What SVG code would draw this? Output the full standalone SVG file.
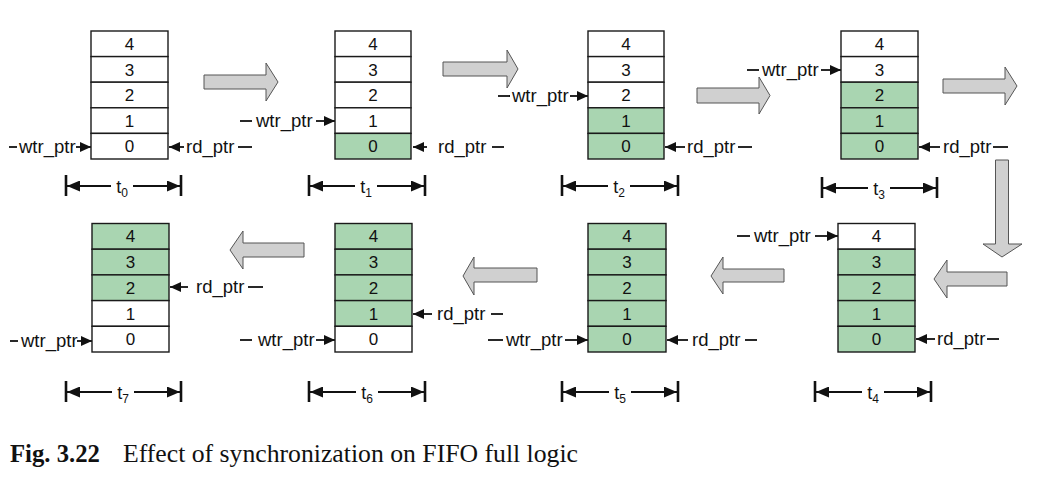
<svg xmlns="http://www.w3.org/2000/svg" width="1040" height="490" viewBox="0 0 1040 490">
<defs>
<style>
.cell{fill:#ffffff;stroke:#1a1a1a;stroke-width:1.4}
.g{fill:#a9d5b1}
.num{font-family:"Liberation Sans",Arial,sans-serif;font-size:17px;fill:#111;text-anchor:middle}
.lbl{font-family:"Liberation Sans",Arial,sans-serif;font-size:18.5px;fill:#111}
.ptr{stroke:#111;stroke-width:1.8;fill:none}
.ptrh{stroke:#111;stroke-width:1.8;fill:none;marker-end:url(#ah)}
.tl{stroke:#111;stroke-width:2;fill:none;marker-end:url(#th)}
.bar{stroke:#111;stroke-width:2.6}
.big{fill:#d0d0d0;stroke:#555;stroke-width:1}
.tt{font-family:"Liberation Sans",Arial,sans-serif;font-size:18px;fill:#111;text-anchor:middle}
.sub{font-size:12px}
.cap{font-family:"Liberation Serif","Times New Roman",serif;font-size:25.5px;fill:#111}
</style>
<marker id="ah" markerUnits="userSpaceOnUse" markerWidth="11" markerHeight="10" refX="11" refY="5" orient="auto"><path d="M0,0 L11,5 L0,10 z" fill="#111"/></marker>
<marker id="th" markerUnits="userSpaceOnUse" markerWidth="13" markerHeight="11" refX="13" refY="5.5" orient="auto"><path d="M0,0 L13,5.5 L0,11 z" fill="#111"/></marker>
</defs>

<g id="connectors">
<path class="big" d="M204,75 L266,75 L266,63 L278,82 L266,101 L266,89 L204,89 Z"/>
<path class="big" d="M443,62 L507,62 L507,50 L518,69 L507,88 L507,76 L443,76 Z"/>
<path class="big" d="M697,88 L759,88 L759,77 L770,95.5 L759,114 L759,103 L697,103 Z"/>
<path class="big" d="M943,79 L1005,79 L1005,67 L1017,86 L1005,105 L1005,93 L943,93 Z"/>
<path class="big" d="M995.5,160 L1008.5,160 L1008.5,244 L1022,244 L1002,257 L983,244 L995.5,244 Z"/>
<path class="big" d="M1007,272 L947,272 L947,260 L934,279 L947,298 L947,286 L1007,286 Z"/>
<path class="big" d="M784,269 L723,269 L723,257 L711,276 L723,294 L723,282 L784,282 Z"/>
<path class="big" d="M537,268 L474,268 L474,257 L463,276 L474,295 L474,282 L537,282 Z"/>
<path class="big" d="M304,243 L243,243 L243,231 L230,250 L243,269 L243,257 L304,257 Z"/>

<line class="ptr" x1="9" y1="147" x2="17" y2="147"/>
<line class="ptrh" x1="76" y1="147" x2="91" y2="147"/>
<line class="ptrh" x1="184" y1="147" x2="169" y2="147"/>
<line class="ptr" x1="238" y1="147" x2="252" y2="147"/>
<line class="ptr" x1="240" y1="121" x2="252" y2="121"/>
<line class="ptrh" x1="316" y1="121" x2="335" y2="121"/>
<line class="ptrh" x1="427" y1="147" x2="413" y2="147"/>
<line class="ptr" x1="492" y1="147" x2="504" y2="147"/>
<line class="ptr" x1="498" y1="96" x2="510" y2="96"/>
<line class="ptrh" x1="570" y1="96" x2="588" y2="96"/>
<line class="ptrh" x1="685" y1="147" x2="665" y2="147"/>
<line class="ptr" x1="738" y1="147" x2="752" y2="147"/>
<line class="ptr" x1="747" y1="70" x2="759" y2="70"/>
<line class="ptrh" x1="821" y1="70" x2="841" y2="70"/>
<line class="ptrh" x1="940" y1="147" x2="919" y2="147"/>
<line class="ptr" x1="993" y1="147" x2="1008" y2="147"/>
<line class="ptr" x1="737" y1="236" x2="750" y2="236"/>
<line class="ptrh" x1="815" y1="236" x2="838" y2="236"/>
<line class="ptrh" x1="935" y1="339" x2="916" y2="339"/>
<line class="ptr" x1="987" y1="339" x2="999" y2="339"/>
<line class="ptr" x1="488" y1="340" x2="503" y2="340"/>
<line class="ptrh" x1="565" y1="340" x2="588" y2="340"/>
<line class="ptrh" x1="688" y1="340" x2="667" y2="340"/>
<line class="ptr" x1="745" y1="340" x2="757" y2="340"/>
<line class="ptr" x1="240" y1="340" x2="252" y2="340"/>
<line class="ptrh" x1="316" y1="340" x2="335" y2="340"/>
<line class="ptrh" x1="432" y1="314" x2="413" y2="314"/>
<line class="ptr" x1="491" y1="314" x2="503" y2="314"/>
<line class="ptr" x1="10" y1="341" x2="18" y2="341"/>
<line class="ptrh" x1="77" y1="341" x2="92" y2="341"/>
<line class="ptrh" x1="188" y1="287" x2="170" y2="287"/>
<line class="ptr" x1="248" y1="287" x2="263" y2="287"/>
</g>

<g id="t0">
<rect class="cell" x="91" y="31" width="77" height="25.6"/>
<rect class="cell" x="91" y="56.6" width="77" height="25.6"/>
<rect class="cell" x="91" y="82.2" width="77" height="25.6"/>
<rect class="cell" x="91" y="107.8" width="77" height="25.6"/>
<rect class="cell" x="91" y="133.4" width="77" height="25.6"/>
<text class="num" x="129.5" y="49.9">4</text><text class="num" x="129.5" y="75.5">3</text><text class="num" x="129.5" y="101.1">2</text><text class="num" x="129.5" y="126.7">1</text><text class="num" x="129.5" y="152.3">0</text>
<text class="lbl" x="19" y="152.5">wtr_ptr</text>
<text class="lbl" x="186" y="152.5">rd_ptr</text>
</g>

<g id="t1">
<rect class="cell" x="335" y="31" width="76" height="25.6"/>
<rect class="cell" x="335" y="56.6" width="76" height="25.6"/>
<rect class="cell" x="335" y="82.2" width="76" height="25.6"/>
<rect class="cell" x="335" y="107.8" width="76" height="25.6"/>
<rect class="cell g" x="335" y="133.4" width="76" height="25.6"/>
<text class="num" x="373" y="49.9">4</text><text class="num" x="373" y="75.5">3</text><text class="num" x="373" y="101.1">2</text><text class="num" x="373" y="126.7">1</text><text class="num" x="373" y="152.3">0</text>
<text class="lbl" x="256" y="126.5">wtr_ptr</text>
<text class="lbl" x="438" y="152.5">rd_ptr</text>
</g>

<g id="t2">
<rect class="cell" x="588" y="31" width="76" height="25.6"/>
<rect class="cell" x="588" y="56.6" width="76" height="25.6"/>
<rect class="cell" x="588" y="82.2" width="76" height="25.6"/>
<rect class="cell g" x="588" y="107.8" width="76" height="25.6"/>
<rect class="cell g" x="588" y="133.4" width="76" height="25.6"/>
<text class="num" x="626" y="49.9">4</text><text class="num" x="626" y="75.5">3</text><text class="num" x="626" y="101.1">2</text><text class="num" x="626" y="126.7">1</text><text class="num" x="626" y="152.3">0</text>
<text class="lbl" x="512" y="101.5">wtr_ptr</text>
<text class="lbl" x="687" y="152.5">rd_ptr</text>
</g>

<g id="t3">
<rect class="cell" x="841" y="31" width="77" height="25.6"/>
<rect class="cell" x="841" y="56.6" width="77" height="25.6"/>
<rect class="cell g" x="841" y="82.2" width="77" height="25.6"/>
<rect class="cell g" x="841" y="107.8" width="77" height="25.6"/>
<rect class="cell g" x="841" y="133.4" width="77" height="25.6"/>
<text class="num" x="879.5" y="49.9">4</text><text class="num" x="879.5" y="75.5">3</text><text class="num" x="879.5" y="101.1">2</text><text class="num" x="879.5" y="126.7">1</text><text class="num" x="879.5" y="152.3">0</text>
<text class="lbl" x="762" y="75.5">wtr_ptr</text>
<text class="lbl" x="943" y="152.5">rd_ptr</text>
</g>

<g id="t4">
<rect class="cell" x="838" y="223.5" width="77" height="25.7"/>
<rect class="cell g" x="838" y="249.2" width="77" height="25.7"/>
<rect class="cell g" x="838" y="274.9" width="77" height="25.7"/>
<rect class="cell g" x="838" y="300.6" width="77" height="25.7"/>
<rect class="cell g" x="838" y="326.3" width="77" height="25.7"/>
<text class="num" x="876.5" y="242.4">4</text><text class="num" x="876.5" y="268.1">3</text><text class="num" x="876.5" y="293.8">2</text><text class="num" x="876.5" y="319.5">1</text><text class="num" x="876.5" y="345.2">0</text>
<text class="lbl" x="754" y="241.5">wtr_ptr</text>
<text class="lbl" x="937" y="344.5">rd_ptr</text>
</g>

<g id="t5">
<rect class="cell g" x="588" y="223.5" width="78" height="25.7"/>
<rect class="cell g" x="588" y="249.2" width="78" height="25.7"/>
<rect class="cell g" x="588" y="274.9" width="78" height="25.7"/>
<rect class="cell g" x="588" y="300.6" width="78" height="25.7"/>
<rect class="cell g" x="588" y="326.3" width="78" height="25.7"/>
<text class="num" x="627" y="242.4">4</text><text class="num" x="627" y="268.1">3</text><text class="num" x="627" y="293.8">2</text><text class="num" x="627" y="319.5">1</text><text class="num" x="627" y="345.2">0</text>
<text class="lbl" x="506" y="345.5">wtr_ptr</text>
<text class="lbl" x="692" y="345.5">rd_ptr</text>
</g>

<g id="t6">
<rect class="cell g" x="335" y="223.5" width="77" height="25.7"/>
<rect class="cell g" x="335" y="249.2" width="77" height="25.7"/>
<rect class="cell g" x="335" y="274.9" width="77" height="25.7"/>
<rect class="cell g" x="335" y="300.6" width="77" height="25.7"/>
<rect class="cell" x="335" y="326.3" width="77" height="25.7"/>
<text class="num" x="373.5" y="242.4">4</text><text class="num" x="373.5" y="268.1">3</text><text class="num" x="373.5" y="293.8">2</text><text class="num" x="373.5" y="319.5">1</text><text class="num" x="373.5" y="345.2">0</text>
<text class="lbl" x="258" y="345.5">wtr_ptr</text>
<text class="lbl" x="437" y="319.5">rd_ptr</text>
</g>

<g id="t7">
<rect class="cell g" x="92" y="223.5" width="77" height="25.7"/>
<rect class="cell g" x="92" y="249.2" width="77" height="25.7"/>
<rect class="cell g" x="92" y="274.9" width="77" height="25.7"/>
<rect class="cell" x="92" y="300.6" width="77" height="25.7"/>
<rect class="cell" x="92" y="326.3" width="77" height="25.7"/>
<text class="num" x="130.5" y="242.4">4</text><text class="num" x="130.5" y="268.1">3</text><text class="num" x="130.5" y="293.8">2</text><text class="num" x="130.5" y="319.5">1</text><text class="num" x="130.5" y="345.2">0</text>
<text class="lbl" x="21" y="346.5">wtr_ptr</text>
<text class="lbl" x="196" y="292.5">rd_ptr</text>
</g>

<g id="timelines">
<g id="tl0">
<line class="bar" x1="66" y1="175" x2="66" y2="196"/><line class="bar" x1="181" y1="175" x2="181" y2="196"/>
<line class="tl" x1="111" y1="186" x2="67" y2="186"/><line class="tl" x1="133" y1="186" x2="180" y2="186"/>
<text class="tt" x="122" y="193">t<tspan class="sub" dy="4">0</tspan></text>
</g>
<g id="tl1">
<line class="bar" x1="309" y1="175" x2="309" y2="196"/><line class="bar" x1="425" y1="175" x2="425" y2="196"/>
<line class="tl" x1="355" y1="186" x2="310" y2="186"/><line class="tl" x1="377" y1="186" x2="424" y2="186"/>
<text class="tt" x="366" y="193">t<tspan class="sub" dy="4">1</tspan></text>
</g>
<g id="tl2">
<line class="bar" x1="562" y1="175" x2="562" y2="196"/><line class="bar" x1="678" y1="175" x2="678" y2="196"/>
<line class="tl" x1="608" y1="186" x2="563" y2="186"/><line class="tl" x1="630" y1="186" x2="677" y2="186"/>
<text class="tt" x="619" y="193">t<tspan class="sub" dy="4">2</tspan></text>
</g>
<g id="tl3">
<line class="bar" x1="822" y1="177" x2="822" y2="198"/><line class="bar" x1="937" y1="177" x2="937" y2="198"/>
<line class="tl" x1="868" y1="188" x2="823" y2="188"/><line class="tl" x1="890" y1="188" x2="936" y2="188"/>
<text class="tt" x="879" y="195">t<tspan class="sub" dy="4">3</tspan></text>
</g>
<g id="tl4">
<line class="bar" x1="815" y1="381" x2="815" y2="402"/><line class="bar" x1="931" y1="381" x2="931" y2="402"/>
<line class="tl" x1="862" y1="392" x2="816" y2="392"/><line class="tl" x1="884" y1="392" x2="930" y2="392"/>
<text class="tt" x="873" y="399">t<tspan class="sub" dy="4">4</tspan></text>
</g>
<g id="tl5">
<line class="bar" x1="562" y1="381" x2="562" y2="402"/><line class="bar" x1="678" y1="381" x2="678" y2="402"/>
<line class="tl" x1="609" y1="392" x2="563" y2="392"/><line class="tl" x1="631" y1="392" x2="677" y2="392"/>
<text class="tt" x="620" y="399">t<tspan class="sub" dy="4">5</tspan></text>
</g>
<g id="tl6">
<line class="bar" x1="309" y1="381" x2="309" y2="402"/><line class="bar" x1="425" y1="381" x2="425" y2="402"/>
<line class="tl" x1="356" y1="392" x2="310" y2="392"/><line class="tl" x1="378" y1="392" x2="424" y2="392"/>
<text class="tt" x="367" y="399">t<tspan class="sub" dy="4">6</tspan></text>
</g>
<g id="tl7">
<line class="bar" x1="66" y1="381" x2="66" y2="402"/><line class="bar" x1="181" y1="381" x2="181" y2="402"/>
<line class="tl" x1="112" y1="392" x2="67" y2="392"/><line class="tl" x1="134" y1="392" x2="180" y2="392"/>
<text class="tt" x="123" y="399">t<tspan class="sub" dy="4">7</tspan></text>
</g>
</g>

<g id="caption">
<text class="cap" x="10" y="462" font-weight="bold" textLength="90" lengthAdjust="spacingAndGlyphs">Fig. 3.22</text>
<text class="cap" x="123" y="462" textLength="455" lengthAdjust="spacingAndGlyphs">Effect of synchronization on FIFO full logic</text>
</g>
</svg>
